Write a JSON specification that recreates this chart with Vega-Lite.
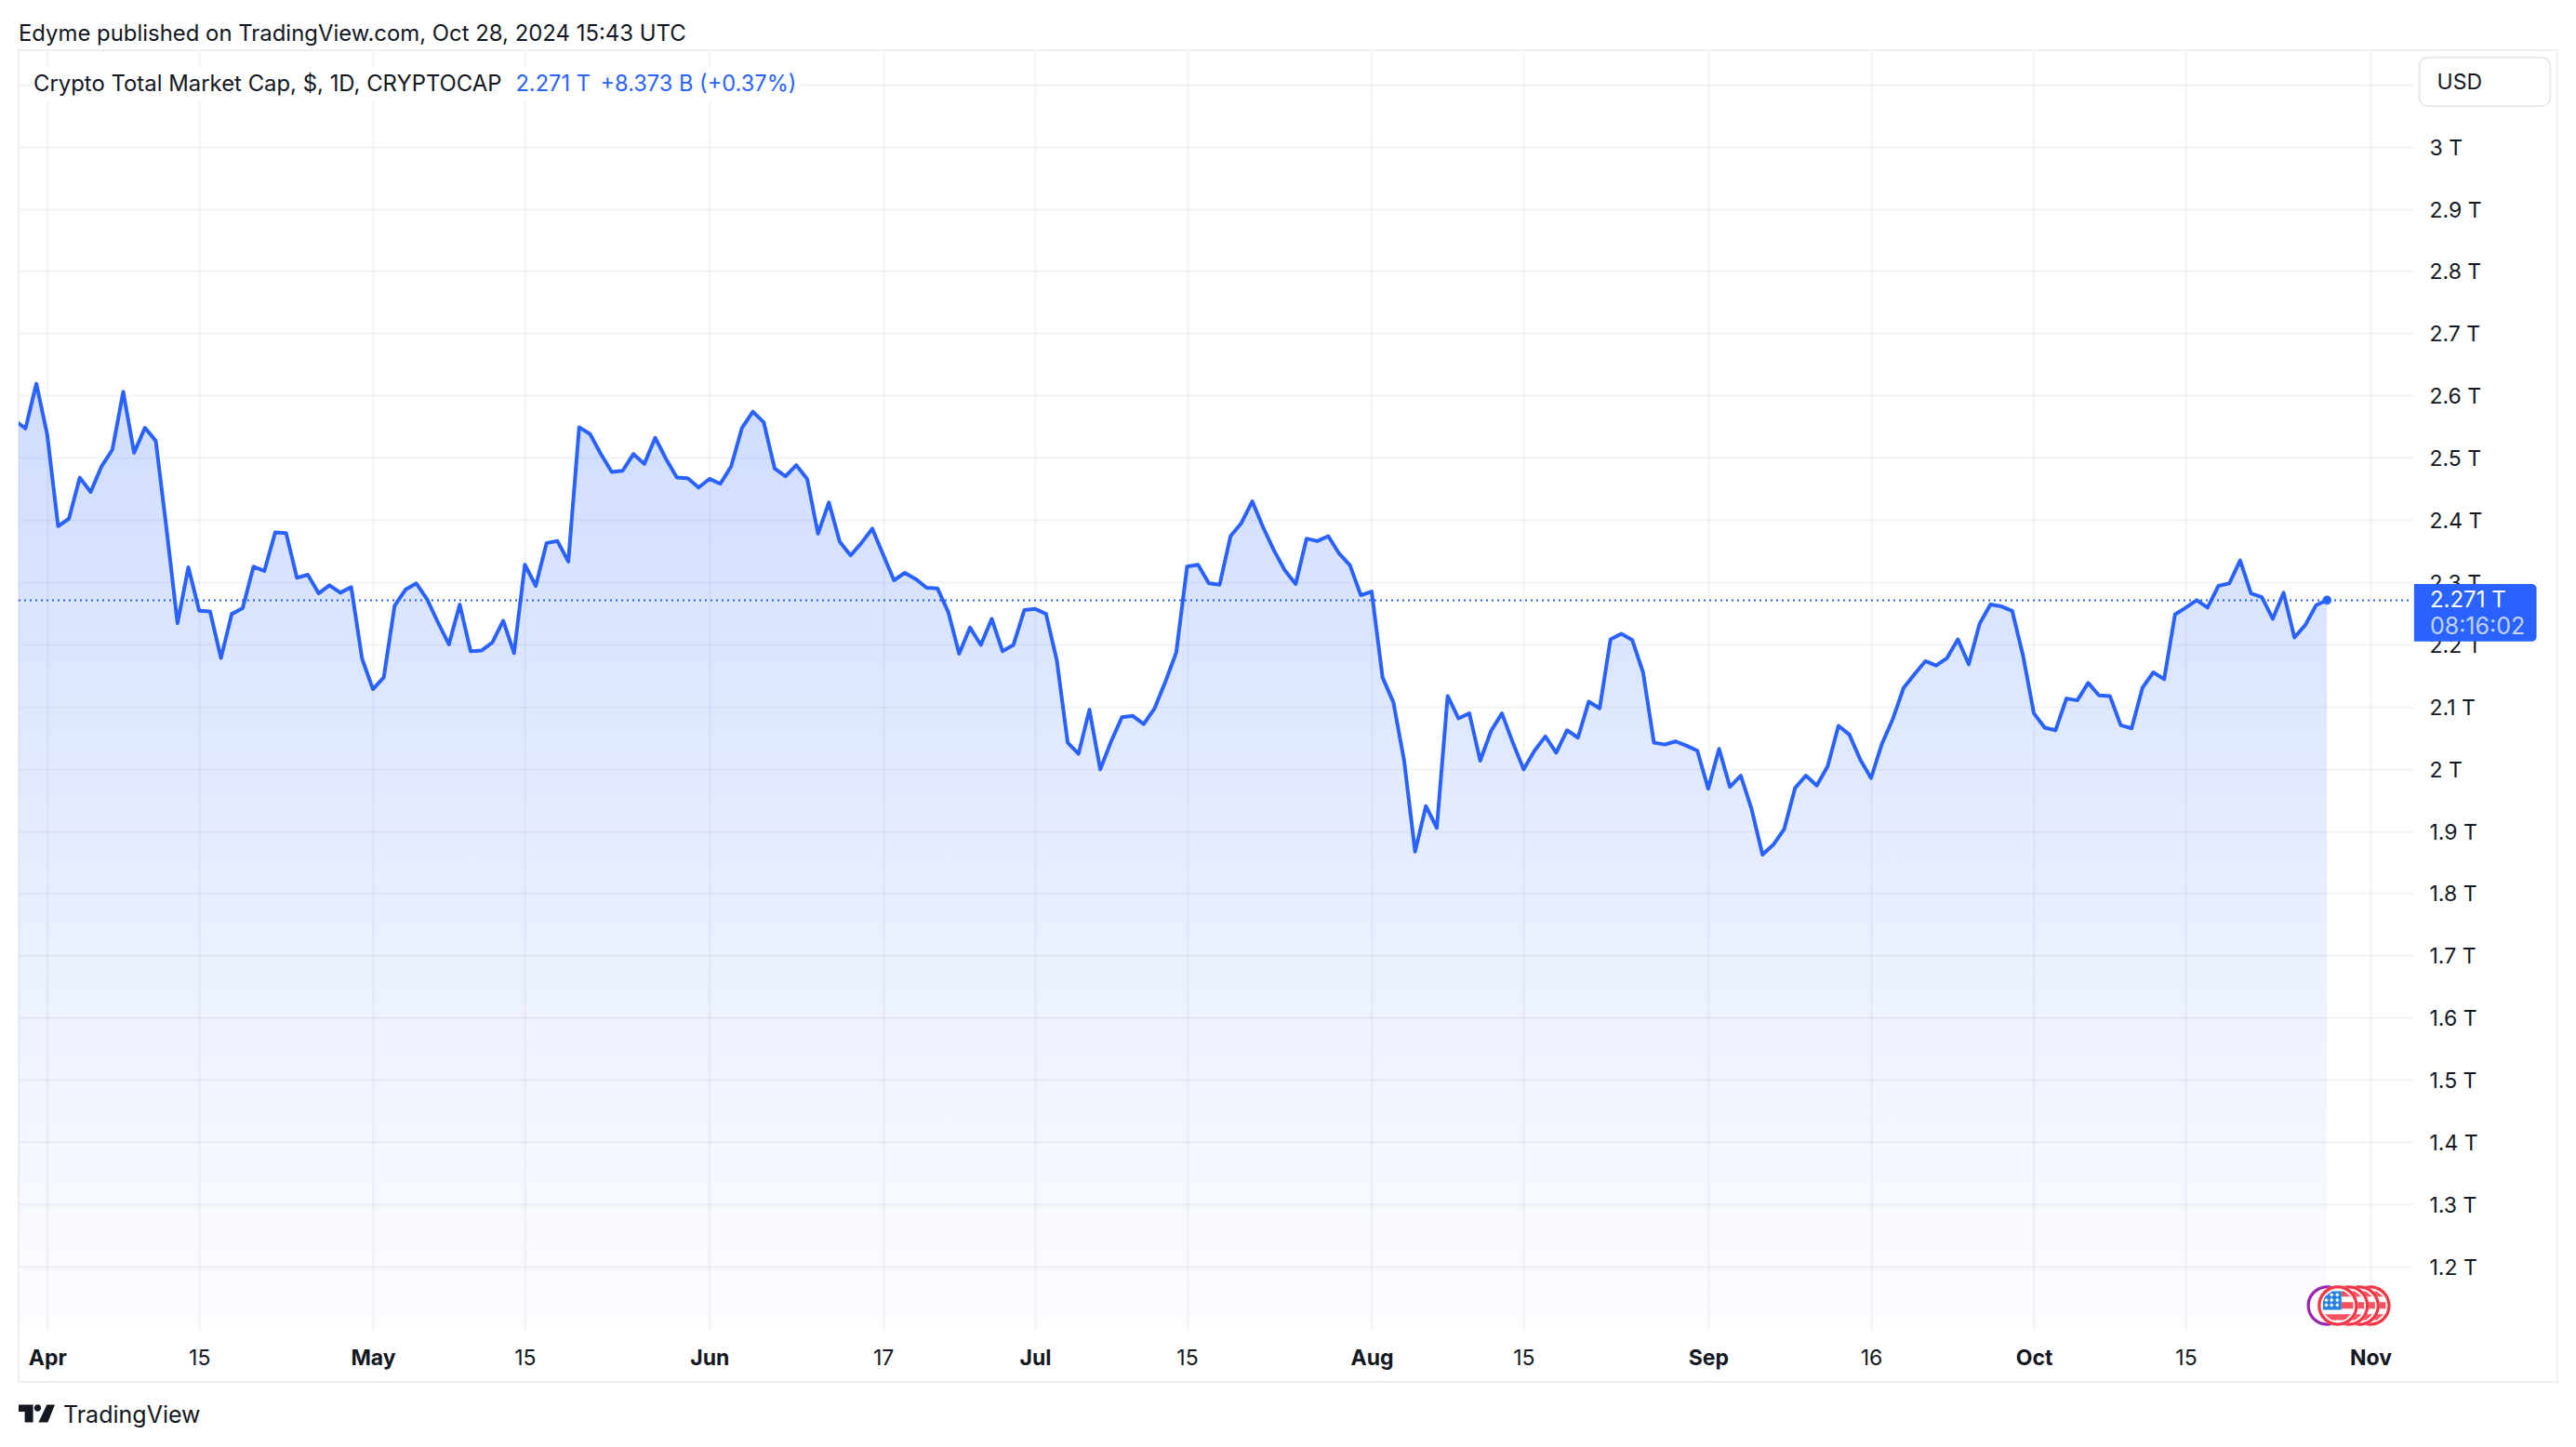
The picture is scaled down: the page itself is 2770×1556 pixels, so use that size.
{
  "$schema": "https://vega.github.io/schema/vega-lite/v6.json",
  "width": 2574,
  "height": 1376,
  "autosize": {"type": "none"},
  "padding": {"left": 20, "top": 54, "right": 176, "bottom": 126},
  "background": "#ffffff",
  "config": {"font": "Inter", "view": {"stroke": null}},
  "datasets": {
    "series": [
      {"date":"2024-03-29","value":2.56},{"date":"2024-03-30","value":2.547},{"date":"2024-03-31","value":2.619},
      {"date":"2024-04-01","value":2.537},{"date":"2024-04-02","value":2.39},{"date":"2024-04-03","value":2.402},{"date":"2024-04-04","value":2.468},{"date":"2024-04-05","value":2.445},{"date":"2024-04-06","value":2.486},{"date":"2024-04-07","value":2.513},{"date":"2024-04-08","value":2.606},{"date":"2024-04-09","value":2.508},{"date":"2024-04-10","value":2.548},
      {"date":"2024-04-11","value":2.527},{"date":"2024-04-12","value":2.384},{"date":"2024-04-13","value":2.234},{"date":"2024-04-14","value":2.324},{"date":"2024-04-15","value":2.254},{"date":"2024-04-16","value":2.253},{"date":"2024-04-17","value":2.178},{"date":"2024-04-18","value":2.249},{"date":"2024-04-19","value":2.258},{"date":"2024-04-20","value":2.325},
      {"date":"2024-04-21","value":2.318},{"date":"2024-04-22","value":2.38},{"date":"2024-04-23","value":2.379},{"date":"2024-04-24","value":2.307},{"date":"2024-04-25","value":2.312},{"date":"2024-04-26","value":2.282},{"date":"2024-04-27","value":2.295},{"date":"2024-04-28","value":2.283},{"date":"2024-04-29","value":2.292},{"date":"2024-04-30","value":2.177},
      {"date":"2024-05-01","value":2.128},{"date":"2024-05-02","value":2.147},{"date":"2024-05-03","value":2.262},{"date":"2024-05-04","value":2.288},{"date":"2024-05-05","value":2.298},{"date":"2024-05-06","value":2.272},{"date":"2024-05-07","value":2.235},{"date":"2024-05-08","value":2.2},{"date":"2024-05-09","value":2.264},{"date":"2024-05-10","value":2.189},
      {"date":"2024-05-11","value":2.19},{"date":"2024-05-12","value":2.203},{"date":"2024-05-13","value":2.238},{"date":"2024-05-14","value":2.186},{"date":"2024-05-15","value":2.328},{"date":"2024-05-16","value":2.294},{"date":"2024-05-17","value":2.363},{"date":"2024-05-18","value":2.366},{"date":"2024-05-19","value":2.333},{"date":"2024-05-20","value":2.549},
      {"date":"2024-05-21","value":2.538},{"date":"2024-05-22","value":2.506},{"date":"2024-05-23","value":2.477},{"date":"2024-05-24","value":2.479},{"date":"2024-05-25","value":2.506},{"date":"2024-05-26","value":2.49},{"date":"2024-05-27","value":2.532},{"date":"2024-05-28","value":2.498},{"date":"2024-05-29","value":2.468},{"date":"2024-05-30","value":2.467},{"date":"2024-05-31","value":2.452},
      {"date":"2024-06-01","value":2.466},{"date":"2024-06-02","value":2.458},{"date":"2024-06-03","value":2.486},{"date":"2024-06-04","value":2.548},{"date":"2024-06-05","value":2.574},{"date":"2024-06-06","value":2.557},{"date":"2024-06-07","value":2.483},{"date":"2024-06-08","value":2.47},{"date":"2024-06-09","value":2.488},{"date":"2024-06-10","value":2.466},
      {"date":"2024-06-11","value":2.378},{"date":"2024-06-12","value":2.428},{"date":"2024-06-13","value":2.365},{"date":"2024-06-14","value":2.343},{"date":"2024-06-15","value":2.363},{"date":"2024-06-16","value":2.386},{"date":"2024-06-17","value":2.344},{"date":"2024-06-18","value":2.303},{"date":"2024-06-19","value":2.315},{"date":"2024-06-20","value":2.305},
      {"date":"2024-06-21","value":2.291},{"date":"2024-06-22","value":2.29},{"date":"2024-06-23","value":2.252},{"date":"2024-06-24","value":2.185},{"date":"2024-06-25","value":2.227},{"date":"2024-06-26","value":2.199},{"date":"2024-06-27","value":2.241},{"date":"2024-06-28","value":2.189},{"date":"2024-06-29","value":2.199},{"date":"2024-06-30","value":2.255},
      {"date":"2024-07-01","value":2.257},{"date":"2024-07-02","value":2.249},{"date":"2024-07-03","value":2.174},{"date":"2024-07-04","value":2.042},{"date":"2024-07-05","value":2.024},{"date":"2024-07-06","value":2.095},{"date":"2024-07-07","value":1.999},{"date":"2024-07-08","value":2.044},{"date":"2024-07-09","value":2.083},{"date":"2024-07-10","value":2.085},
      {"date":"2024-07-11","value":2.072},{"date":"2024-07-12","value":2.097},{"date":"2024-07-13","value":2.14},{"date":"2024-07-14","value":2.187},{"date":"2024-07-15","value":2.325},{"date":"2024-07-16","value":2.328},{"date":"2024-07-17","value":2.298},{"date":"2024-07-18","value":2.296},{"date":"2024-07-19","value":2.374},{"date":"2024-07-20","value":2.395},
      {"date":"2024-07-21","value":2.43},{"date":"2024-07-22","value":2.388},{"date":"2024-07-23","value":2.351},{"date":"2024-07-24","value":2.319},{"date":"2024-07-25","value":2.297},{"date":"2024-07-26","value":2.37},{"date":"2024-07-27","value":2.366},{"date":"2024-07-28","value":2.374},{"date":"2024-07-29","value":2.346},{"date":"2024-07-30","value":2.327},{"date":"2024-07-31","value":2.279},
      {"date":"2024-08-01","value":2.285},{"date":"2024-08-02","value":2.147},{"date":"2024-08-03","value":2.107},{"date":"2024-08-04","value":2.012},{"date":"2024-08-05","value":1.867},{"date":"2024-08-06","value":1.94},{"date":"2024-08-07","value":1.905},{"date":"2024-08-08","value":2.117},{"date":"2024-08-09","value":2.081},{"date":"2024-08-10","value":2.089},
      {"date":"2024-08-11","value":2.013},{"date":"2024-08-12","value":2.061},{"date":"2024-08-13","value":2.089},{"date":"2024-08-14","value":2.042},{"date":"2024-08-15","value":1.999},{"date":"2024-08-16","value":2.029},{"date":"2024-08-17","value":2.052},{"date":"2024-08-18","value":2.026},{"date":"2024-08-19","value":2.062},{"date":"2024-08-20","value":2.05},
      {"date":"2024-08-21","value":2.108},{"date":"2024-08-22","value":2.097},{"date":"2024-08-23","value":2.208},{"date":"2024-08-24","value":2.217},{"date":"2024-08-25","value":2.207},{"date":"2024-08-26","value":2.155},{"date":"2024-08-27","value":2.042},{"date":"2024-08-28","value":2.039},{"date":"2024-08-29","value":2.044},{"date":"2024-08-30","value":2.037},{"date":"2024-08-31","value":2.029},
      {"date":"2024-09-01","value":1.968},{"date":"2024-09-02","value":2.032},{"date":"2024-09-03","value":1.971},{"date":"2024-09-04","value":1.989},{"date":"2024-09-05","value":1.935},{"date":"2024-09-06","value":1.862},{"date":"2024-09-07","value":1.878},{"date":"2024-09-08","value":1.903},{"date":"2024-09-09","value":1.969},{"date":"2024-09-10","value":1.989},
      {"date":"2024-09-11","value":1.973},{"date":"2024-09-12","value":2.004},{"date":"2024-09-13","value":2.069},{"date":"2024-09-14","value":2.055},{"date":"2024-09-15","value":2.015},{"date":"2024-09-16","value":1.985},{"date":"2024-09-17","value":2.04},{"date":"2024-09-18","value":2.08},{"date":"2024-09-19","value":2.13},{"date":"2024-09-20","value":2.152},
      {"date":"2024-09-21","value":2.173},{"date":"2024-09-22","value":2.166},{"date":"2024-09-23","value":2.178},{"date":"2024-09-24","value":2.208},{"date":"2024-09-25","value":2.168},{"date":"2024-09-26","value":2.233},{"date":"2024-09-27","value":2.264},{"date":"2024-09-28","value":2.261},{"date":"2024-09-29","value":2.254},{"date":"2024-09-30","value":2.182},
      {"date":"2024-10-01","value":2.089},{"date":"2024-10-02","value":2.066},{"date":"2024-10-03","value":2.062},{"date":"2024-10-04","value":2.113},{"date":"2024-10-05","value":2.11},{"date":"2024-10-06","value":2.138},{"date":"2024-10-07","value":2.118},{"date":"2024-10-08","value":2.117},{"date":"2024-10-09","value":2.07},{"date":"2024-10-10","value":2.065},
      {"date":"2024-10-11","value":2.13},{"date":"2024-10-12","value":2.155},{"date":"2024-10-13","value":2.144},{"date":"2024-10-14","value":2.248},{"date":"2024-10-15","value":2.259},{"date":"2024-10-16","value":2.271},{"date":"2024-10-17","value":2.259},{"date":"2024-10-18","value":2.294},{"date":"2024-10-19","value":2.298},{"date":"2024-10-20","value":2.335},
      {"date":"2024-10-21","value":2.282},{"date":"2024-10-22","value":2.276},{"date":"2024-10-23","value":2.241},{"date":"2024-10-24","value":2.283},{"date":"2024-10-25","value":2.211},{"date":"2024-10-26","value":2.231},{"date":"2024-10-27","value":2.263},{"date":"2024-10-28","value":2.271}
    ],
    "flags": [
      {"date":"2024-10-28","value":1.137,"part":"disk"},{"date":"2024-10-28","value":1.137,"part":"purple"},
      {"date":"2024-11-01","value":1.137,"part":"disk"},{"date":"2024-11-01","value":1.137,"part":"stripes"},{"date":"2024-11-01","value":1.137,"part":"red"},
      {"date":"2024-10-31","value":1.137,"part":"disk"},{"date":"2024-10-31","value":1.137,"part":"stripes"},{"date":"2024-10-31","value":1.137,"part":"red"},
      {"date":"2024-10-30","value":1.137,"part":"disk"},{"date":"2024-10-30","value":1.137,"part":"stripes"},{"date":"2024-10-30","value":1.137,"part":"red"},
      {"date":"2024-10-29","value":1.137,"part":"disk"},{"date":"2024-10-29","value":1.137,"part":"stripes"},{"date":"2024-10-29","value":1.137,"part":"red"},
      {"date":"2024-10-29","value":1.137,"part":"canton"},{"date":"2024-10-29","value":1.137,"part":"stars"}
    ]
  },
  "encoding": {
    "x": {
      "field": "date",
      "type": "temporal",
      "title": null,
      "scale": {
        "type": "utc",
        "domain": [
          {"year": 2024, "month": 3, "date": 29, "hours": 8, "minutes": 41, "utc": true},
          {"year": 2024, "month": 11, "date": 4, "hours": 20, "minutes": 38, "utc": true}
        ]
      },
      "axis": {
        "values": [
          {"year": 2024, "month": 4, "date": 1, "utc": true},
          {"year": 2024, "month": 4, "date": 15, "utc": true},
          {"year": 2024, "month": 5, "date": 1, "utc": true},
          {"year": 2024, "month": 5, "date": 15, "utc": true},
          {"year": 2024, "month": 6, "date": 1, "utc": true},
          {"year": 2024, "month": 6, "date": 17, "utc": true},
          {"year": 2024, "month": 7, "date": 1, "utc": true},
          {"year": 2024, "month": 7, "date": 15, "utc": true},
          {"year": 2024, "month": 8, "date": 1, "utc": true},
          {"year": 2024, "month": 8, "date": 15, "utc": true},
          {"year": 2024, "month": 9, "date": 1, "utc": true},
          {"year": 2024, "month": 9, "date": 16, "utc": true},
          {"year": 2024, "month": 10, "date": 1, "utc": true},
          {"year": 2024, "month": 10, "date": 15, "utc": true},
          {"year": 2024, "month": 11, "date": 1, "utc": true}
        ],
        "labelExpr": "utcFormat(datum.value, '%d') === '01' ? utcFormat(datum.value, '%b') : utcFormat(datum.value, '%d')",
        "labelFontWeight": {"condition": {"test": "utcFormat(datum.value, '%d') === '01'", "value": 700}, "value": 400},
        "labelFontSize": 23,
        "labelColor": "#131722",
        "labelPadding": 30,
        "labelBaseline": "middle",
        "labelOverlap": false,
        "labelFlush": false,
        "domain": false,
        "ticks": false,
        "grid": true,
        "gridColor": "#2a2e39",
        "gridOpacity": 0.06,
        "gridWidth": 2
      }
    },
    "y": {
      "field": "value",
      "type": "quantitative",
      "title": null,
      "scale": {"domain": [1.0982, 3.155], "nice": false, "zero": false},
      "axis": {
        "orient": "right",
        "values": [1.2, 1.3, 1.4, 1.5, 1.6, 1.7, 1.8, 1.9, 2, 2.1, 2.2, 2.3, 2.4, 2.5, 2.6, 2.7, 2.8, 2.9, 3, 3.1],
        "labelExpr": "datum.value > 3.05 ? '' : format(datum.value, '.2~g') + ' T'",
        "labelFontSize": 23,
        "labelColor": "#131722",
        "labelPadding": 18,
        "labelOffset": 1.5,
        "labelAlign": "left",
        "labelOverlap": false,
        "labelBound": false,
        "domain": false,
        "ticks": false,
        "grid": true,
        "gridColor": "#2a2e39",
        "gridOpacity": 0.06,
        "gridWidth": 2
      }
    }
  },
  "layer": [
    {
      "data": {"values": [{"date": "2024-03-29T08:41:00Z", "date2": "2024-11-18T04:48:00Z", "value": 3.155, "value2": 1.0145}]},
      "mark": {"type": "rect", "fillOpacity": 0, "stroke": "#eff0f4", "strokeWidth": 2},
      "encoding": {"x2": {"field": "date2"}, "y2": {"field": "value2"}}
    },
    {
      "data": {"name": "series"},
      "mark": {
        "type": "area",
        "clip": true,
        "fill": {
          "gradient": "linear",
          "x1": 0, "y1": 0, "x2": 0, "y2": 1,
          "stops": [
            {"offset": 0, "color": "rgba(41,98,255,0.22)"},
            {"offset": 1, "color": "rgba(41,98,255,0.01)"}
          ]
        }
      },
      "encoding": {"y2": {"datum": 1.0982}}
    },
    {
      "data": {"values": [{"date": "2024-03-29T08:41:00Z", "date2": "2024-11-04T20:38:00Z", "value": 2.271}]},
      "mark": {"type": "rule", "color": "#2962ff", "strokeWidth": 2, "strokeDash": [2, 4]},
      "encoding": {"x2": {"field": "date2"}}
    },
    {
      "data": {"name": "series"},
      "mark": {"type": "line", "clip": true, "color": "#2962ff", "strokeWidth": 4, "strokeJoin": "round"}
    },
    {
      "data": {"values": [{"date": "2024-10-28", "value": 2.271}]},
      "mark": {"type": "point", "shape": "circle", "filled": true, "color": "#2962ff", "opacity": 1, "size": 95}
    },
    {
      "data": {"name": "flags"},
      "mark": {"type": "point", "filled": true, "opacity": 1, "size": 1884},
      "encoding": {
        "shape": {
          "field": "part",
          "type": "nominal",
          "legend": null,
          "scale": {
            "domain": ["disk", "purple", "red", "stripes", "canton", "stars"],
            "range": [
              "M-1,0A1,1 0 1 1 1,0A1,1 0 1 1 -1,0Z",
              "M-1,0A1,1 0 1 1 1,0A1,1 0 1 1 -1,0ZM-.85,0A.85,.85 0 1 0 .85,0A.85,.85 0 1 0 -.85,0Z",
              "M-1,0A1,1 0 1 1 1,0A1,1 0 1 1 -1,0ZM-.85,0A.85,.85 0 1 0 .85,0A.85,.85 0 1 0 -.85,0Z",
              "M.18,-.72L.3,-.72L.64,-.45L.18,-.45ZM.18,-.17L.76,-.17L.76,.15L.18,.15ZM-.65,.43L.65,.43L.32,.71L-.32,.71Z",
              "M-.3,-.72L.18,-.72L.18,.2L-.74,.2L-.74,-.2L-.64,-.45Z",
              "M-.31,-.64L-.21,-.54L-.31,-.44L-.41,-.54ZM-.03,-.64L.07,-.54L-.03,-.44L-.13,-.54ZM-.57,-.38L-.47,-.28L-.57,-.18L-.67,-.28ZM-.31,-.38L-.21,-.28L-.31,-.18L-.41,-.28ZM-.03,-.38L.07,-.28L-.03,-.18L-.13,-.28ZM-.57,-.13L-.47,-.03L-.57,.07L-.67,-.03ZM-.31,-.13L-.21,-.03L-.31,.07L-.41,-.03ZM-.03,-.13L.07,-.03L-.03,.07L-.13,-.03Z"
            ]
          }
        },
        "color": {
          "field": "part",
          "type": "nominal",
          "legend": null,
          "scale": {
            "domain": ["disk", "purple", "red", "stripes", "canton", "stars"],
            "range": ["#ffffff", "#9c27b0", "#f23645", "#f7525f", "#2781e5", "#ffffff"]
          }
        }
      }
    },
    {
      "data": {"values": [{"date": "2024-03-30T17:34:00Z", "date2": "2024-06-09T03:20:00Z", "value": 3.128, "value2": 3.074}]},
      "mark": {"type": "rect", "fill": "#ffffff"},
      "encoding": {"x2": {"field": "date2"}, "y2": {"field": "value2"}}
    },
    {
      "data": {"values": [{"date": "2024-11-05T12:15:00Z", "date2": "2024-11-17T13:26:00Z", "value": 3.1435, "value2": 3.0649}]},
      "mark": {"type": "rect", "fill": "#ffffff", "stroke": "#e8eaf2", "strokeWidth": 2, "cornerRadius": 9},
      "encoding": {"x2": {"field": "date2"}, "y2": {"field": "value2"}}
    },
    {
      "data": {"values": [{"date": "2024-11-05T00:29:00Z", "date2": "2024-11-16T07:12:00Z", "value": 2.297, "value2": 2.2048}]},
      "mark": {"type": "rect", "fill": "#2962ff", "cornerRadiusTopRight": 5, "cornerRadiusBottomRight": 5},
      "encoding": {"x2": {"field": "date2"}, "y2": {"field": "value2"}}
    },
    {
      "data": {"values": [
        {"date": "2024-03-29T08:41:00Z", "value": 3.181, "label": "Edyme published on TradingView.com, Oct 28, 2024 15:43 UTC"},
        {"date": "2024-03-30T17:34:00Z", "value": 3.0995, "label": "Crypto Total Market Cap, $, 1D, CRYPTOCAP"}
      ]},
      "mark": {"type": "text", "align": "left", "baseline": "middle", "fontSize": 23.9, "color": "#131722"},
      "encoding": {"text": {"field": "label"}}
    },
    {
      "data": {"values": [{"date": "2024-11-07T03:22:00Z", "value": 3.1031, "label": "USD"}]},
      "mark": {"type": "text", "align": "left", "baseline": "middle", "fontSize": 23, "color": "#131722"},
      "encoding": {"text": {"field": "label"}}
    },
    {
      "data": {"values": [
        {"date": "2024-05-14T03:32:00Z", "value": 3.0995, "label": "2.271 T"},
        {"date": "2024-05-21T22:34:00Z", "value": 3.0995, "label": "+8.373 B (+0.37%)"}
      ]},
      "mark": {"type": "text", "align": "left", "baseline": "middle", "fontSize": 23.6, "color": "#2962ff"},
      "encoding": {"text": {"field": "label"}}
    },
    {
      "data": {"values": [{"date": "2024-11-06T11:31:00Z", "value": 2.2705, "label": "2.271 T"}]},
      "mark": {"type": "text", "align": "left", "baseline": "middle", "fontSize": 24, "color": "#ffffff"},
      "encoding": {"text": {"field": "label"}}
    },
    {
      "data": {"values": [{"date": "2024-11-06T11:31:00Z", "value": 2.2287, "label": "08:16:02"}]},
      "mark": {"type": "text", "align": "left", "baseline": "middle", "fontSize": 25, "color": "#c3d2fe"},
      "encoding": {"text": {"field": "label"}}
    },
    {
      "data": {"values": [{"date": "2024-04-02T11:21:00Z", "value": 0.9607, "label": "TradingView"}]},
      "mark": {"type": "text", "align": "left", "baseline": "middle", "fontSize": 25, "color": "#131722"},
      "encoding": {"text": {"field": "label"}}
    },
    {
      "data": {"values": [{"date": "2024-03-31T00:46:00Z", "value": 0.9637}]},
      "mark": {
        "type": "point",
        "filled": true,
        "opacity": 1,
        "color": "#131722",
        "size": 1521,
        "shape": "M-1,-.49L-.2,-.49L-.2,.49L-.66,.49L-.66,-.1L-1,-.1ZM-.14,-.31A.19,.19 0 1 0 .24,-.31A.19,.19 0 1 0 -.14,-.31ZM.56,-.49L1,-.49L.61,.49L.1,.49Z"
      }
    }
  ]
}
